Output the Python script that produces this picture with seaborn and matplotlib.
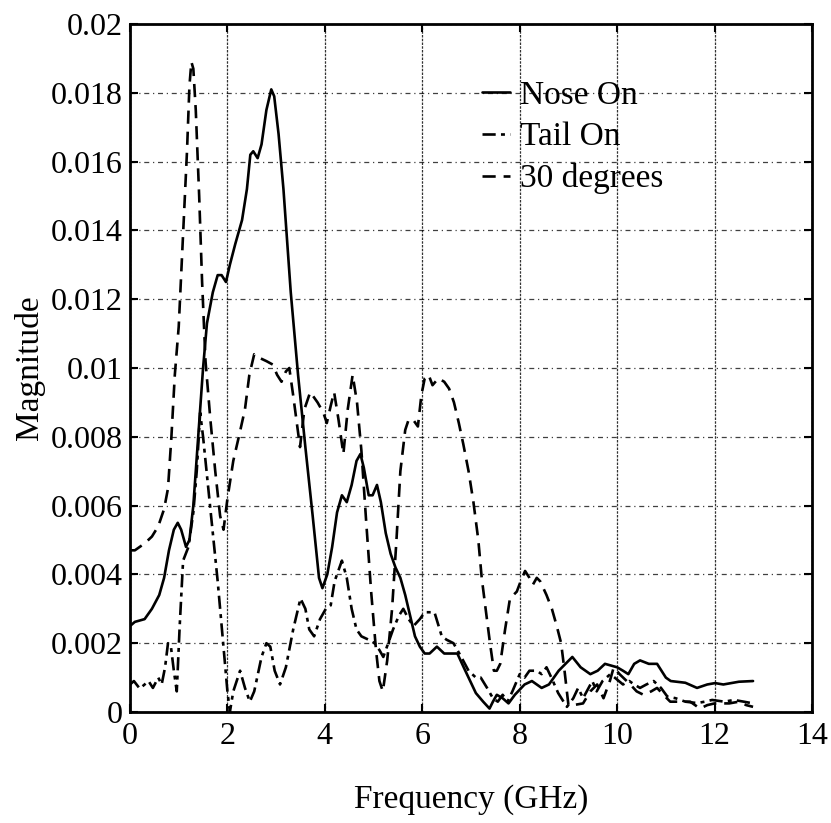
import matplotlib
matplotlib.use("Agg")
import matplotlib.pyplot as plt
import numpy as np
import pandas as pd
import seaborn as sns

# ---- data -------------------------------------------------------------
nose_freq = [0.0, 0.1, 0.3, 0.45, 0.6, 0.7, 0.8, 0.9, 0.98, 1.05, 1.15, 1.22, 1.3, 1.4, 1.5,
             1.58, 1.7, 1.8, 1.88, 1.97, 2.05, 2.16, 2.3, 2.4, 2.47, 2.53, 2.62, 2.7, 2.8, 2.9,
             2.96, 3.05, 3.15, 3.3, 3.45, 3.6, 3.75, 3.88, 3.95, 4.05, 4.15, 4.25, 4.35, 4.45,
             4.55, 4.65, 4.73, 4.8, 4.9, 4.98, 5.07, 5.15, 5.25, 5.35, 5.45, 5.55, 5.65, 5.75,
             5.85, 5.95, 6.05, 6.15, 6.3, 6.45, 6.6, 6.72, 6.85, 6.95, 7.1, 7.25, 7.38, 7.45,
             7.53, 7.65, 7.77, 7.9, 8.1, 8.25, 8.45, 8.6, 8.8, 9.08, 9.25, 9.45, 9.6, 9.75, 10.0,
             10.12, 10.23, 10.35, 10.47, 10.65, 10.82, 11.0, 11.1, 11.4, 11.64, 11.85, 12.01,
             12.18, 12.5, 12.79]
nose_mag = [0.0025, 0.00262, 0.0027, 0.0030, 0.0034, 0.0039, 0.0047, 0.0053, 0.0055, 0.0053,
            0.0048, 0.0050, 0.0060, 0.0080, 0.0100, 0.0113, 0.0122, 0.0127, 0.0127, 0.0125,
            0.0130, 0.0136, 0.0143, 0.0152, 0.0162, 0.0163, 0.0161, 0.0165, 0.0175, 0.0181,
            0.0179, 0.0168, 0.0152, 0.0122, 0.0098, 0.0077, 0.0057, 0.0039, 0.0036, 0.0040,
            0.0048, 0.0058, 0.0063, 0.0061, 0.0066, 0.0073, 0.0075, 0.0071, 0.0063, 0.0063,
            0.0066, 0.0061, 0.0052, 0.0046, 0.0042, 0.0039, 0.0034, 0.0028, 0.0022, 0.0019,
            0.0017, 0.0017, 0.0019, 0.0017, 0.0017, 0.0017, 0.0013, 0.0010, 0.00055, 0.0003,
            0.0001, 0.0003, 0.0005, 0.0004, 0.00025, 0.0005, 0.0008, 0.0009, 0.0007, 0.0008,
            0.0012, 0.0016, 0.0013, 0.0011, 0.0012, 0.0014, 0.0013, 0.0012, 0.0011, 0.0014,
            0.0015, 0.0014, 0.0014, 0.0010, 0.0009, 0.00085, 0.0007, 0.0008, 0.00084, 0.0008,
            0.00088, 0.0009]

tail_freq = [0.0, 0.08, 0.2, 0.3, 0.38, 0.47, 0.58, 0.65, 0.72, 0.78, 0.84, 0.9, 0.96, 1.02,
             1.09, 1.2, 1.3, 1.37, 1.44, 1.5, 1.6, 1.7, 1.8, 1.9, 2.0, 2.05, 2.12, 2.26, 2.36,
             2.46, 2.55, 2.7, 2.8, 2.88, 2.97, 3.08, 3.2, 3.35, 3.5, 3.6, 3.68, 3.78, 3.9, 4.02,
             4.12, 4.2, 4.35, 4.45, 4.55, 4.65, 4.75, 4.9, 5.02, 5.12, 5.2, 5.3, 5.4, 5.52, 5.61,
             5.72, 5.82, 5.95, 6.05, 6.15, 6.25, 6.4, 6.5, 6.64, 6.8, 6.95, 7.1, 7.2, 7.33, 7.45,
             7.55, 7.65, 7.75, 7.85, 8.0, 8.1, 8.2, 8.35, 8.45, 8.55, 8.65, 8.79, 8.9, 8.97, 9.1,
             9.2, 9.3, 9.49, 9.58, 9.7, 9.86, 9.95, 10.12, 10.25, 10.35, 10.47, 10.6, 10.75,
             10.9, 11.03, 11.2, 11.4, 11.64, 11.8, 11.95, 12.2, 12.4, 12.6, 12.79]
tail_mag = [0.0008, 0.0009, 0.00068, 0.0008, 0.0009, 0.0007, 0.0010, 0.0008, 0.0013, 0.0020,
            0.0019, 0.0012, 0.0006, 0.0025, 0.0044, 0.0048, 0.0058, 0.0070, 0.0087, 0.0080,
            0.0066, 0.0052, 0.0038, 0.0022, 0.0006, 0.0000, 0.0006, 0.0012, 0.0007, 0.0003,
            0.0006, 0.0016, 0.0020, 0.0019, 0.0012, 0.0008, 0.0013, 0.0024, 0.0033, 0.0030,
            0.0024, 0.0022, 0.0027, 0.0030, 0.0031, 0.0038, 0.0044, 0.0039, 0.0030, 0.0024,
            0.0022, 0.0021, 0.0020, 0.0018, 0.0016, 0.0020, 0.0024, 0.0028, 0.0030, 0.0027,
            0.0025, 0.0027, 0.0029, 0.0029, 0.0029, 0.0022, 0.0021, 0.0020, 0.0016, 0.0012,
            0.0010, 0.0010, 0.0007, 0.0004, 0.0003, 0.0005, 0.0003, 0.0006, 0.0011, 0.0010,
            0.0012, 0.0012, 0.0011, 0.0013, 0.0010, 0.00055, 0.0003, 0.00015, 0.0004, 0.0007,
            0.0004, 0.0009, 0.0006, 0.0009, 0.0011, 0.0010, 0.0008, 0.0009, 0.0008, 0.0007,
            0.0008, 0.0009, 0.0007, 0.00045, 0.0004, 0.0003, 0.00026, 0.0003, 0.00035, 0.0003,
            0.00035, 0.0003, 0.00025]

deg30_freq = [0.0, 0.1, 0.3, 0.45, 0.58, 0.7, 0.78, 0.85, 0.92, 1.0, 1.06, 1.12, 1.17, 1.22,
              1.26, 1.3, 1.35, 1.42, 1.48, 1.55, 1.65, 1.75, 1.85, 1.92, 2.0, 2.12, 2.25, 2.36,
              2.45, 2.55, 2.65, 2.8, 2.93, 3.02, 3.11, 3.2, 3.27, 3.35, 3.49, 3.58, 3.7, 3.85,
              3.97, 4.04, 4.12, 4.19, 4.28, 4.38, 4.47, 4.57, 4.66, 4.75, 4.85, 4.95, 5.05, 5.12,
              5.19, 5.28, 5.38, 5.47, 5.55, 5.65, 5.72, 5.81, 5.91, 5.98, 6.05, 6.13, 6.21, 6.33,
              6.45, 6.55, 6.65, 6.75, 6.84, 6.95, 7.05, 7.15, 7.22, 7.3, 7.39, 7.47, 7.53, 7.6,
              7.7, 7.8, 7.94, 8.02, 8.11, 8.2, 8.27, 8.35, 8.42, 8.55, 8.66, 8.76, 8.85, 8.92,
              9.0, 9.1, 9.3, 9.45, 9.59, 9.72, 9.85, 9.93, 10.05, 10.27, 10.4, 10.54, 10.7,
              10.82, 10.95, 11.09, 11.3, 11.5, 11.7, 11.85, 12.0, 12.3, 12.5, 12.65, 12.79]
deg30_mag = [0.0047, 0.0047, 0.0049, 0.0051, 0.0054, 0.0059, 0.0065, 0.0080, 0.0098, 0.0112,
             0.0130, 0.0148, 0.0163, 0.0182, 0.0189, 0.0187, 0.0175, 0.0150, 0.0125, 0.0102,
             0.0085, 0.0070, 0.0057, 0.0053, 0.0062, 0.0073, 0.0081, 0.0088, 0.0098, 0.0104,
             0.0103, 0.0102, 0.0101, 0.0098, 0.0096, 0.0099, 0.0100, 0.0092, 0.0077, 0.0088,
             0.0093, 0.0090, 0.0087, 0.0084, 0.0089, 0.0093, 0.0085, 0.0075, 0.0088, 0.0098,
             0.0090, 0.0076, 0.0055, 0.0035, 0.0018, 0.0009, 0.0006, 0.0015, 0.0030, 0.0050,
             0.0070, 0.0082, 0.0085, 0.0085, 0.0083, 0.0092, 0.0097, 0.0098, 0.0095, 0.0097,
             0.0096, 0.0094, 0.0090, 0.0084, 0.0078, 0.0070, 0.0061, 0.0050, 0.0039, 0.0030,
             0.0020, 0.0012, 0.0012, 0.0014, 0.0024, 0.0033, 0.0035, 0.0038, 0.0041, 0.0039,
             0.0037, 0.0039, 0.0038, 0.0034, 0.0030, 0.0025, 0.0020, 0.0012, 0.0002, 0.0002,
             0.00025, 0.0006, 0.0008, 0.0004, 0.0009, 0.0013, 0.0011, 0.0008, 0.0006, 0.0005,
             0.0006, 0.0007, 0.0005, 0.0003, 0.0003, 0.0003, 0.0001, 0.0002, 0.00025, 0.00025,
             0.0003, 0.0002, 0.00015]

series_names = ["Nose On", "Tail On", "30 degrees"]
x_ticks = [0, 2, 4, 6, 8, 10, 12, 14]
x_tick_labels = ["0", "2", "4", "6", "8", "10", "12", "14"]
y_ticks = [0, 0.002, 0.004, 0.006, 0.008, 0.01, 0.012, 0.014, 0.016, 0.018, 0.02]
y_tick_labels = ["0", "0.002", "0.004", "0.006", "0.008", "0.01", "0.012", "0.014",
                 "0.016", "0.018", "0.02"]

df = pd.concat([
    pd.DataFrame({"freq": nose_freq, "magnitude": nose_mag, "series": series_names[0]}),
    pd.DataFrame({"freq": tail_freq, "magnitude": tail_mag, "series": series_names[1]}),
    pd.DataFrame({"freq": deg30_freq, "magnitude": deg30_mag, "series": series_names[2]}),
], ignore_index=True)

# ---- style ------------------------------------------------------------
sns.set_style("white")
plt.rcParams["font.family"] = ["Liberation Serif", "DejaVu Serif"]
plt.rcParams["text.color"] = "black"
plt.rcParams["axes.labelcolor"] = "black"

fig = plt.figure(figsize=(8.31, 8.23), dpi=100)
ax = fig.add_axes([130 / 831, 1 - 712 / 823, 682 / 831, 688 / 823])

dash_styles = {"Nose On": "", "Tail On": (5, 2, 1.5, 2), "30 degrees": (5, 3)}
sns.lineplot(data=df, x="freq", y="magnitude", style="series", style_order=series_names,
             dashes=dash_styles, color="black", linewidth=1.9, estimator=None,
             sort=False, ax=ax)

ax.set_xlim(0, 14)
ax.set_ylim(0, 0.02)
ax.set_xticks(x_ticks)
ax.set_xticklabels(x_tick_labels)
ax.set_yticks(y_ticks)
ax.set_yticklabels(y_tick_labels)

ax.tick_params(axis="both", which="major", direction="in", length=6, width=1.5,
               labelsize=23, top=True, right=True, bottom=True, left=True, colors="black")
ax.tick_params(axis="x", pad=7)
ax.tick_params(axis="y", pad=5)

for sp in ax.spines.values():
    sp.set_visible(True)
    sp.set_color("black")
    sp.set_linewidth(2.0)

ax.xaxis.grid(True, color="black", linestyle=(0, (2, 1)), linewidth=0.9, alpha=0.8)
ax.yaxis.grid(True, color="black", linestyle=(0, (4, 3, 1, 3)), linewidth=0.9, alpha=0.75)
ax.set_axisbelow(True)

ax.set_xlabel("Frequency (GHz)", fontsize=24, color="black")
ax.set_ylabel("Magnitude", fontsize=24, color="black")
ax.xaxis.set_label_coords(0.5, (712 - 800) / 688)
ax.xaxis.label.set_va("center")
ax.yaxis.set_label_coords((29 - 130) / 682, 0.5)
ax.yaxis.label.set_va("center")

handles, labels = ax.get_legend_handles_labels()
leg = ax.legend(handles=handles, labels=labels, loc="upper left",
                bbox_to_anchor=(0.516, 0.918), frameon=False, fontsize=24,
                handlelength=0.85, handletextpad=0.3, labelspacing=0.33,
                borderpad=0, borderaxespad=0, labelcolor="black")

fig.savefig("out.png", dpi=100, facecolor="white")
